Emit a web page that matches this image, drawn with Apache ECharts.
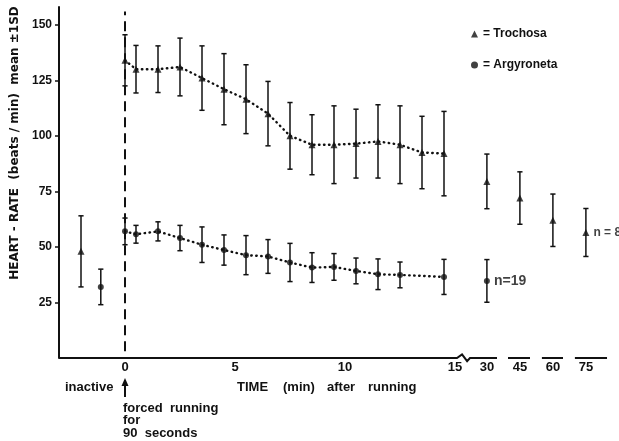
<!DOCTYPE html>
<html>
<head>
<meta charset="utf-8">
<script src="https://cdn.jsdelivr.net/npm/echarts@6/dist/echarts.min.js"></script>
<style>
  html, body { margin: 0; padding: 0; background: #fff; }
  #main-chart { width: 619px; height: 441px; }
</style>
</head>
<body>
<div id="main-chart"></div>
<script>
// Trochosa: time (min), mean and SD (beats/min). -2 = inactive
const trochosaTime = [-2, 0, 0.5, 1.5, 2.5, 3.5, 4.5, 5.5, 6.5, 7.5, 8.5, 9.5, 10.5, 11.5, 12.5, 13.5, 14.5, 30, 45, 60, 75];
const trochosaMean = [48, 134, 130, 130, 131, 126, 121, 116.5, 110, 100, 96, 96, 96.5, 97.5, 96, 92.5, 92, 79.5, 72, 62, 56.5];
const trochosaSD   = [16, 11.5, 10.7, 10.5, 13, 14.5, 16, 15.5, 14.5, 15, 13.5, 17.5, 15.5, 16.5, 17.5, 16.3, 19, 12.3, 11.8, 11.8, 10.8];

// Argyroneta: -1.1 = inactive
const argyroTime = [-1.1, 0, 0.5, 1.5, 2.5, 3.5, 4.5, 5.5, 6.5, 7.5, 8.5, 9.5, 10.5, 11.5, 12.5, 14.5, 30];
const argyroMean = [32, 57, 55.7, 57, 54, 51, 48.6, 46.3, 45.7, 43, 40.7, 41, 39.2, 37.7, 37.4, 36.5, 34.7];
const argyroSD   = [8, 6, 4, 4.3, 5.7, 8, 6.8, 8.8, 7.6, 8.6, 6.7, 6, 5.8, 6.9, 5.8, 7.9, 9.6];

const sampleSizes = { Trochosa: 8, Argyroneta: 19 };

// x tick labels (minutes); after 15 the axis is broken
const xTicks = [0, 5, 10, 15, 30, 45, 60, 75];
const yTicks = [25, 50, 75, 100, 125, 150];

// broken time axis: 30..75 min squeezed after the break
function axisX(t) {
    return t <= 15 ? t : 16.45 + (t - 30) / 10;
}

const ink = '#111';
const font = 'Liberation Sans';

function points(times, means) {
    return times.map((t, i) => [axisX(t), means[i]]);
}
function bars(times, means, sds) {
    return times.map((t, i) => [axisX(t), means[i] - sds[i], means[i] + sds[i]]);
}
function runPoints(times, means) {
    // dotted line only joins the points during the 15 min after running
    return points(times, means).filter(p => p[0] >= 0 && p[0] <= 15);
}

function errorBarItem(params, api) {
    const x = api.value(0);
    const lo = api.coord([x, api.value(1)]);
    const hi = api.coord([x, api.value(2)]);
    const w = 2.6;
    const style = { stroke: ink, lineWidth: 1.5 };
    return {
        type: 'group',
        children: [
            { type: 'line', shape: { x1: lo[0], y1: lo[1], x2: hi[0], y2: hi[1] }, style: style },
            { type: 'line', shape: { x1: lo[0] - w, y1: lo[1], x2: lo[0] + w, y2: lo[1] }, style: style },
            { type: 'line', shape: { x1: hi[0] - w, y1: hi[1], x2: hi[0] + w, y2: hi[1] }, style: style }
        ]
    };
}

// x axis line drawn in pieces, with the zig-zag break after 15
const axisPieces = [
    [[-3, 0], [15.09, 0], [15.32, 1.6], [15.55, -1.4], [15.68, 0], [16.91, 0]],
    [[17.41, 0], [18.41, 0]],
    [[18.95, 0], [19.91, 0]],
    [[20.45, 0], [21.91, 0]]
];
function axisItem(params, api) {
    const pts = axisPieces[params.dataIndex].map(p => api.coord(p));
    return { type: 'polyline', shape: { points: pts }, style: { stroke: ink, lineWidth: 2, fill: null } };
}

const chartDom = document.getElementById('main-chart');
const myChart = echarts.init(chartDom);

const tLast = trochosaTime.length - 1;
const aLast = argyroTime.length - 1;
const xTickPos = xTicks.map(axisX);

function txt(text, x, y, size) {
    return {
        type: 'text',
        x: x,
        y: y,
        style: { text: text, fill: ink, font: 'bold ' + (size || 13) + 'px "Liberation Sans"', verticalAlign: 'middle' }
    };
}

const option = {
    animation: false,
    backgroundColor: '#fff',
    grid: { left: 59, right: 10, top: 7, bottom: 83 },
    xAxis: {
        type: 'value',
        min: -3,
        max: 22,
        axisLine: { show: false },
        axisTick: { show: false },
        splitLine: { show: false },
        axisLabel: {
            customValues: xTickPos,
            formatter: v => {
                const i = xTickPos.findIndex(x => Math.abs(x - v) < 1e-6);
                return i >= 0 ? String(xTicks[i]) : '';
            },
            color: ink,
            fontFamily: font,
            fontWeight: 'bold',
            fontSize: 13,
            margin: 3
        }
    },
    yAxis: {
        type: 'value',
        min: 0,
        max: 158,
        axisLine: { show: true, onZero: false, lineStyle: { color: ink, width: 2 } },
        axisTick: { show: true, customValues: yTicks, length: 4, lineStyle: { color: ink, width: 1.5 } },
        splitLine: { show: false },
        axisLabel: {
            customValues: yTicks,
            color: ink,
            fontFamily: font,
            fontWeight: 'bold',
            fontSize: 12,
            margin: 7
        }
    },
    legend: {
        orient: 'vertical',
        left: 466,
        top: 23,
        itemGap: 19,
        itemWidth: 7,
        itemHeight: 7,
        formatter: '= {name}',
        selectedMode: false,
        textStyle: { color: ink, fontFamily: font, fontWeight: 'bold', fontSize: 12 },
        data: [
            { name: 'Trochosa', icon: 'triangle' },
            { name: 'Argyroneta', icon: 'circle' }
        ]
    },
    series: [
        {
            type: 'custom',
            silent: true,
            renderItem: axisItem,
            data: axisPieces.map((p, i) => [i]),
            z: 1
        },
        {
            name: 'running start',
            type: 'line',
            symbol: 'none',
            data: [[0, 3], [0, 156]],
            lineStyle: { color: ink, width: 2, type: [10, 6] },
            z: 1
        },
        {
            type: 'custom',
            renderItem: errorBarItem,
            data: bars(trochosaTime, trochosaMean, trochosaSD),
            z: 2
        },
        {
            type: 'custom',
            renderItem: errorBarItem,
            data: bars(argyroTime, argyroMean, argyroSD),
            z: 2
        },
        {
            type: 'line',
            symbol: 'none',
            data: runPoints(trochosaTime, trochosaMean),
            lineStyle: { color: ink, width: 2.4, type: [0.5, 4.5], cap: 'round' },
            z: 3
        },
        {
            type: 'line',
            symbol: 'none',
            data: runPoints(argyroTime, argyroMean),
            lineStyle: { color: ink, width: 2.4, type: [0.5, 4.5], cap: 'round' },
            z: 3
        },
        {
            name: 'Trochosa',
            type: 'scatter',
            symbol: 'triangle',
            symbolSize: 7,
            itemStyle: { color: ink },
            data: points(trochosaTime, trochosaMean),
            label: {
                show: true,
                position: 'right',
                distance: 4,
                color: ink,
                fontFamily: font,
                fontWeight: 'bold',
                fontSize: 12,
                formatter: p => p.dataIndex === tLast ? 'n = ' + sampleSizes.Trochosa : ''
            },
            z: 4
        },
        {
            name: 'Argyroneta',
            type: 'scatter',
            symbol: 'circle',
            symbolSize: 6,
            itemStyle: { color: ink },
            data: points(argyroTime, argyroMean),
            label: {
                show: true,
                position: 'right',
                distance: 4,
                color: ink,
                fontFamily: font,
                fontWeight: 'bold',
                fontSize: 14,
                formatter: p => p.dataIndex === aLast ? 'n=' + sampleSizes.Argyroneta : ''
            },
            z: 4
        }
    ],
    graphic: [
        {
            type: 'text',
            x: 15,
            y: 143,
            rotation: Math.PI / 2,
            style: {
                text: 'HEART - RATE  (beats / min)  mean ±1SD',
                fill: ink,
                font: 'bold 12px "DejaVu Sans"',
                align: 'center',
                verticalAlign: 'middle'
            }
        },
        txt('inactive', 65, 387),
        txt('TIME', 237, 387),
        txt('(min)', 283, 387),
        txt('after', 327, 387),
        txt('running', 368, 387),
        txt('forced  running', 123, 408),
        txt('for', 123, 420.5),
        txt('90  seconds', 123, 433),
        {
            type: 'polyline',
            shape: { points: [[125, 397], [125, 384]] },
            style: { stroke: ink, lineWidth: 2 }
        },
        {
            type: 'polygon',
            shape: { points: [[125, 378], [121.5, 386], [128.5, 386]] },
            style: { fill: ink }
        }
    ]
};

myChart.setOption(option);
</script>
</body>
</html>
